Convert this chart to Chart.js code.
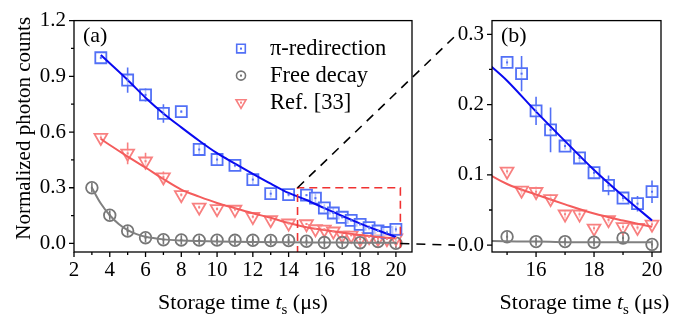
<!DOCTYPE html>
<html>
<head>
<meta charset="utf-8">
<script src="https://cdn.jsdelivr.net/npm/chart.js@4.4.1/dist/chart.umd.min.js"></script>
<style>
  html, body { margin: 0; padding: 0; background: #fff; }
  #wrap { position: relative; width: 692px; height: 314px; overflow: hidden; font-family: "Liberation Serif", "DejaVu Serif", serif; }
  #ca { position: absolute; left: 0; top: 0; width: 430px; height: 314px; }
  #cb { position: absolute; left: 440px; top: 0; width: 252px; height: 314px; }
  #ov { position: absolute; left: 0; top: 0; width: 692px; height: 314px; pointer-events: none; }
</style>
</head>
<body>
<div id="wrap">
  <canvas id="ca" width="430" height="314"></canvas>
  <canvas id="cb" width="252" height="314"></canvas>
  <canvas id="ov" width="692" height="314"></canvas>
</div>
<script>
// storage times (us) for pi-redirection and Ref. [33]
const xPts = [3.5, 5, 6, 7, 8, 9, 10, 11, 12, 13, 14, 15, 15.5, 16, 16.5, 17, 17.5, 18, 18.5, 19, 19.5, 20];
const piVals = [1.0, 0.88, 0.80, 0.70, 0.71, 0.506, 0.452, 0.42, 0.344, 0.268, 0.263, 0.26, 0.244, 0.191, 0.164, 0.141, 0.124, 0.103, 0.085, 0.067, 0.059, 0.076];
const piErr = [0.008, 0.068, 0.035, 0.05, 0.008, 0.03, 0.035, 0.01, 0.025, 0.02, 0.01, 0.005, 0.025, 0.02, 0.032, 0.005, 0.007, 0.007, 0.014, 0.005, 0.011, 0.016];
const refVals = [0.57, 0.485, 0.443, 0.357, 0.262, 0.195, 0.186, 0.183, 0.144, 0.127, 0.109, 0.105, 0.078, 0.076, 0.066, 0.044, 0.044, 0.024, 0.036, 0.026, 0.025, 0.0295];
const refErr = [0.012, 0.058, 0.045, 0.03, 0.01, 0.01, 0.01, 0.01, 0.01, 0.01, 0.01, 0.004, 0.006, 0.007, 0.006, 0.006, 0.005, 0.004, 0.005, 0.004, 0.004, 0.004];

// free decay
const freeX = [3, 4, 5, 6, 7, 8, 9, 10, 11, 12, 13, 14, 15, 16, 17, 18, 19, 20];
const freeVals = [0.30, 0.152, 0.067, 0.031, 0.02, 0.019, 0.018, 0.018, 0.017, 0.017, 0.016, 0.016, 0.012, 0.005, 0.005, 0.004, 0.01, 0.001];
const freeErrA = [0.025, 0.025, 0.025, 0.025, 0.025, 0.025, 0.025, 0.025, 0.025, 0.025, 0.025, 0.025, 0.025, 0.025, 0.025, 0.025, 0.025, 0.025];
const freeErrB = [0.007, 0.007, 0.007, 0.007, 0.007, 0.007, 0.007, 0.007, 0.007, 0.007, 0.007, 0.007, 0.007, 0.006, 0.006, 0.006, 0.006, 0.006];

// fitted curves
const fitXPi = [3.5, 4, 5, 6, 7, 8, 9, 10, 11, 12, 13, 14, 15, 16, 17, 18, 19, 20];
const piFit = [1.015, 0.97, 0.88, 0.785, 0.70, 0.625, 0.553, 0.486, 0.43, 0.375, 0.322, 0.272, 0.234, 0.19, 0.148, 0.107, 0.07, 0.035];
const refFit = [0.563, 0.53, 0.468, 0.409, 0.347, 0.29, 0.252, 0.218, 0.19, 0.163, 0.138, 0.11, 0.087, 0.072, 0.058, 0.045, 0.035, 0.026];
const fitXFree = [3, 3.5, 4, 4.5, 5, 5.5, 6, 7, 8, 9, 10, 12, 14, 16, 18, 20];
const freeFit = [0.30, 0.215, 0.152, 0.105, 0.072, 0.05, 0.036, 0.022, 0.016, 0.013, 0.011, 0.008, 0.006, 0.005, 0.004, 0.004];

// axis ticks
const xMajorA = [2, 4, 6, 8, 10, 12, 14, 16, 18, 20];
const xMinorA = [3, 5, 7, 9, 11, 13, 15, 17, 19];
const yMajorA = [0, 0.3, 0.6, 0.9, 1.2];
const yMinorA = [0.15, 0.45, 0.75, 1.05];
const xMajorB = [16, 18, 20];
const xMinorB = [15, 17, 19];
const yMajorB = [0, 0.1, 0.2, 0.3];
const yMinorB = [0.05, 0.15, 0.25];

// zoom box shown in (a)
const boxX = [14.5, 20.25];
const boxTop = 0.3;

const legendNames = ['\u03c0-redirection', 'Free decay', 'Ref. [33]'];

const serif = '"Liberation Serif", "DejaVu Serif", serif';
const blueMk = 'rgb(82,112,246)';
const blueLn = 'rgb(10,10,240)';
const redMk = 'rgb(248,128,128)';
const redLn = 'rgb(244,92,92)';
const grayMk = 'rgb(118,118,118)';
const grayLn = 'rgb(128,128,128)';

const pts = (xs, ys) => xs.map((x, i) => ({ x: x, y: ys[i] }));

function makeDatasets(freeErr) {
  return [
    { label: 'pifit', data: pts(fitXPi, piFit), borderColor: blueLn, borderWidth: 2, pointRadius: 0, cubicInterpolationMode: 'monotone', clip: 0 },
    { label: 'reffit', data: pts(fitXPi, refFit), borderColor: redLn, borderWidth: 2, pointRadius: 0, cubicInterpolationMode: 'monotone', clip: 0 },
    { label: 'freefit', data: pts(fitXFree, freeFit), borderColor: grayLn, borderWidth: 2, pointRadius: 0, cubicInterpolationMode: 'monotone', clip: 0 },
    { label: legendNames[0], data: pts(xPts, piVals), errs: piErr, showLine: false, borderColor: blueMk,
      pointStyle: 'rect', pointRadius: 7.8, pointBorderWidth: 1.8, pointBorderColor: blueMk, pointBackgroundColor: 'rgba(255,255,255,0.6)', clip: 0 },
    { label: legendNames[1], data: pts(freeX, freeVals), errs: freeErr, showLine: false, borderColor: grayMk,
      pointStyle: 'circle', pointRadius: 5.8, pointBorderWidth: 1.8, pointBorderColor: grayMk, pointBackgroundColor: 'rgba(0,0,0,0)', clip: 0 },
    { label: legendNames[2], data: pts(xPts, refVals), errs: refErr, showLine: false, borderColor: redMk,
      pointStyle: 'triangle', rotation: 180, pointRadius: 7.4, pointBorderWidth: 1.8, pointBorderColor: redMk, pointBackgroundColor: 'rgba(255,255,255,0.6)', clip: 0 }
  ];
}

function drawXTitle(ctx, cx, baseY) {
  const big = '22px ' + serif, ital = 'italic 22px ' + serif, small = '15px ' + serif;
  const parts = [['Storage time ', big, 0], ['t', ital, 0], ['s', small, 5], [' (\u03bcs)', big, 0]];
  let w = 0;
  parts.forEach(p => { ctx.font = p[1]; w += ctx.measureText(p[0]).width; });
  let x = cx - w / 2;
  ctx.fillStyle = '#000';
  ctx.textAlign = 'left';
  ctx.textBaseline = 'alphabetic';
  parts.forEach(p => { ctx.font = p[1]; ctx.fillText(p[0], x, baseY + p[2]); x += ctx.measureText(p[0]).width; });
}

const panelPlugin = {
  id: 'panel',
  beforeDatasetsDraw(chart) {
    const ctx = chart.ctx, a = chart.chartArea, ys = chart.scales.y;
    ctx.save();
    ctx.beginPath();
    ctx.rect(a.left, a.top, a.right - a.left, a.bottom - a.top);
    ctx.clip();
    chart.data.datasets.forEach((ds, i) => {
      if (!ds.errs) return;
      const meta = chart.getDatasetMeta(i);
      ctx.strokeStyle = ds.borderColor;
      ctx.lineWidth = 1.6;
      meta.data.forEach((pt, j) => {
        const v = ds.data[j].y, e = ds.errs[j];
        ctx.beginPath();
        ctx.moveTo(pt.x, ys.getPixelForValue(v + e));
        ctx.lineTo(pt.x, ys.getPixelForValue(v - e));
        ctx.stroke();
      });
    });
    ctx.restore();
  },
  afterDatasetsDraw(chart, args, o) {
    const ctx = chart.ctx, a = chart.chartArea, xs = chart.scales.x, ys = chart.scales.y;
    ctx.save();
    ctx.beginPath();
    ctx.rect(a.left, a.top, a.right - a.left, a.bottom - a.top);
    ctx.clip();
    // little dots in the middle of the markers
    chart.data.datasets.forEach((ds, i) => {
      if (!ds.errs) return;
      ctx.fillStyle = ds.borderColor;
      chart.getDatasetMeta(i).data.forEach(pt => ctx.fillRect(pt.x - 1, pt.y - 1, 2, 2));
    });
    if (o.box) {
      const l = xs.getPixelForValue(boxX[0]), r = xs.getPixelForValue(boxX[1]), t = ys.getPixelForValue(boxTop);
      ctx.strokeStyle = 'rgb(240,50,50)';
      ctx.lineWidth = 1.6;
      ctx.setLineDash([8, 5]);
      ctx.beginPath();
      ctx.moveTo(l, a.bottom + 2); ctx.lineTo(l, t); ctx.lineTo(r, t); ctx.lineTo(r, a.bottom + 2);
      ctx.stroke();
      ctx.setLineDash([]);
    }
    ctx.restore();

    ctx.save();
    ctx.strokeStyle = '#000';
    ctx.lineWidth = 1.3;
    ctx.strokeRect(a.left, a.top, a.right - a.left, a.bottom - a.top);
    ctx.beginPath();
    o.xMajor.forEach(v => { const p = xs.getPixelForValue(v); ctx.moveTo(p, a.bottom); ctx.lineTo(p, a.bottom + 5); });
    o.xMinor.forEach(v => { const p = xs.getPixelForValue(v); ctx.moveTo(p, a.bottom); ctx.lineTo(p, a.bottom + 3); });
    o.yMajor.forEach(v => { const p = ys.getPixelForValue(v); ctx.moveTo(a.left, p); ctx.lineTo(a.left - 5, p); });
    o.yMinor.forEach(v => { const p = ys.getPixelForValue(v); ctx.moveTo(a.left, p); ctx.lineTo(a.left - 3, p); });
    ctx.stroke();

    // panel letter
    ctx.fillStyle = '#000';
    ctx.font = '22px ' + serif;
    ctx.textAlign = 'left';
    ctx.textBaseline = 'alphabetic';
    ctx.fillText(o.letter, a.left + 9, a.top + 21);

    if (o.legend) {
      const mx = a.left + 167, tx = a.left + 196;
      [3, 4, 5].forEach((di, k) => {
        const ds = chart.data.datasets[di];
        const y = a.top + 28 + k * 27;
        ctx.strokeStyle = ds.borderColor;
        ctx.fillStyle = 'rgba(255,255,255,0)';
        ctx.lineWidth = 1.6;
        Chart.helpers.drawPoint(ctx, { pointStyle: ds.pointStyle, radius: ds.pointRadius * 0.78, rotation: ds.rotation || 0, borderWidth: 1.6 }, mx, y);
        ctx.fillStyle = ds.borderColor;
        ctx.fillRect(mx - 1, y - 1, 2, 2);
        ctx.fillStyle = '#000';
        ctx.font = '22.5px ' + serif;
        ctx.textBaseline = 'middle';
        ctx.fillText(ds.label, tx, y);
      });
    }

    drawXTitle(ctx, (a.left + a.right) / 2 + (o.titleShift || 0), a.bottom + 57);
    if (o.yTitle) {
      ctx.save();
      ctx.translate(24, (a.top + a.bottom) / 2 - 8);
      ctx.rotate(-Math.PI / 2);
      ctx.font = '21px ' + serif;
      ctx.fillStyle = '#000';
      ctx.textAlign = 'center';
      ctx.textBaseline = 'middle';
      ctx.fillText(o.yTitle, 0, 0);
      ctx.restore();
    }
    ctx.restore();
  }
};

function axes(xMin, xMax, yMin, yMax, xMaj, yMaj, yWidth, yDigits) {
  return {
    x: {
      type: 'linear', min: xMin, max: xMax,
      grid: { display: false, drawTicks: false }, border: { display: false },
      afterBuildTicks: s => { s.ticks = xMaj.map(v => ({ value: v })); },
      afterFit: s => { s.height = 62; },
      ticks: { padding: 6, color: '#000', font: { family: serif, size: 21 }, maxRotation: 0, autoSkip: false, callback: v => String(v) }
    },
    y: {
      type: 'linear', min: yMin, max: yMax,
      grid: { display: false, drawTicks: false }, border: { display: false },
      afterBuildTicks: s => { s.ticks = yMaj.map(v => ({ value: v })); },
      afterFit: s => { s.width = yWidth; },
      ticks: { padding: 8, color: '#000', font: { family: serif, size: 21 }, autoSkip: false, callback: v => v.toFixed(yDigits) }
    }
  };
}

Chart.defaults.font.family = serif;

const chartA = new Chart(document.getElementById('ca'), {
  type: 'line',
  data: { datasets: makeDatasets(freeErrA) },
  options: {
    responsive: false, animation: false, events: [],
    layout: { padding: { top: 9, right: 18, left: 0, bottom: 0 } },
    scales: axes(2, 20.9, -0.046, 1.2, xMajorA, yMajorA, 74, 1),
    plugins: {
      legend: { display: false }, tooltip: { enabled: false },
      panel: { letter: '(a)', legend: true, box: true, yTitle: 'Normalized photon counts',
               xMajor: xMajorA, xMinor: xMinorA, yMajor: yMajorA, yMinor: yMinorA }
    }
  },
  plugins: [panelPlugin]
});

const connectPlugin = {
  id: 'connect',
  afterDraw(chart) {
    const ctx = document.getElementById('ov').getContext('2d');
    const offB = 440;
    const ax = chartA.scales.x, ay = chartA.scales.y, by = chart.scales.y;
    const endX = offB + chart.chartArea.left - 35;
    ctx.clearRect(0, 0, 692, 314);
    ctx.strokeStyle = '#000';
    ctx.lineWidth = 1.6;
    ctx.setLineDash([9, 7]);
    ctx.beginPath();
    ctx.moveTo(ax.getPixelForValue(boxX[0]), ay.getPixelForValue(boxTop));
    ctx.lineTo(endX, by.getPixelForValue(boxTop));
    ctx.moveTo(ax.getPixelForValue(boxX[1]), ay.getPixelForValue(0));
    ctx.lineTo(endX - 2, by.getPixelForValue(0));
    ctx.stroke();
  }
};

const chartB = new Chart(document.getElementById('cb'), {
  type: 'line',
  data: { datasets: makeDatasets(freeErrB) },
  options: {
    responsive: false, animation: false, events: [],
    layout: { padding: { top: 10, right: 31, left: 0, bottom: 0 } },
    scales: axes(14.48, 20.31, -0.0098, 0.3195, xMajorB, yMajorB, 52, 1),
    plugins: {
      legend: { display: false }, tooltip: { enabled: false },
      panel: { letter: '(b)', legend: false, box: false, titleShift: 8,
               xMajor: xMajorB, xMinor: xMinorB, yMajor: yMajorB, yMinor: yMinorB }
    }
  },
  plugins: [panelPlugin, connectPlugin]
});
</script>
</body>
</html>
